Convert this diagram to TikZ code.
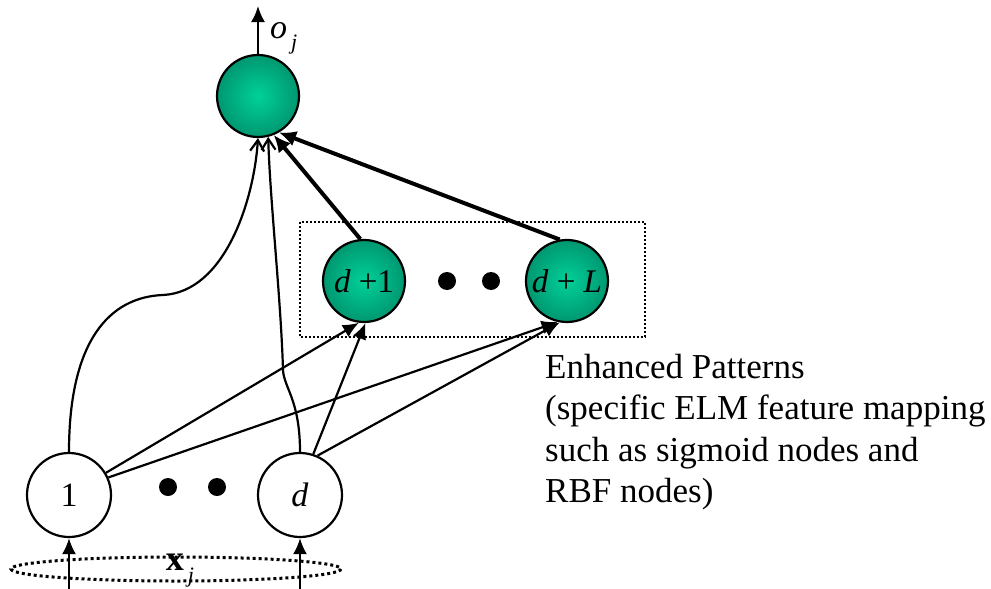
\documentclass[tikz,border=0pt]{standalone}
\usepackage{fontspec}
\setmainfont{Liberation Serif}
\usetikzlibrary{arrows.meta}
\pgfdeclareradialshading{ballgreen}{\pgfpoint{0bp}{0bp}}{rgb(0bp)=(0,0.82,0.6); rgb(22bp)=(0,0.62,0.46); rgb(50bp)=(0,0.35,0.27)}
\tikzset{
  ball/.style={circle,draw,line width=2.2pt,minimum size=82pt,inner sep=0pt,shading=ballgreen,font=\fontsize{33}{33}\selectfont},
  unit/.style={circle,draw,line width=2.2pt,minimum size=84pt,inner sep=0pt,fill=white,font=\fontsize{34}{34}\selectfont},
  conn/.style={line width=2.2pt,-{Latex[length=16pt,width=14pt]}},
  wire/.style={line width=2.2pt,-{Straight Barb[length=11pt,width=14pt]}},
  heavy/.style={line width=4pt,-{Latex[length=17pt,width=16pt]}},
  bigdot/.style={circle,fill,inner sep=0pt,minimum size=18pt},
}
\begin{document}
\begin{tikzpicture}[x=1pt,y=-1pt]
  \useasboundingbox (0,0) rectangle (991,589);
  \def\lw{2pt} % thin line width
  % output node
  \node[ball] (out) at (258,96) {};
  \coordinate (top) at (258,6);
  \draw[conn] (out) -- (top);
  \node[anchor=west,inner sep=0pt] (olbl) at (270,38) {\fontsize{34}{34}\selectfont\textit{o}\hspace{4pt}\raisebox{-11pt}{\fontsize{22}{22}\selectfont\textit{j}}};
  % enhanced patterns
  \draw[dash pattern=on 2pt off 2pt,line width=\lw] (300,222) rectangle (645,337);
  \node[ball] (h1) at (364,281) {\textit{d} +1};
  \node[ball] (hL) at (567,281) {\textit{d} + \textit{L}};
  \node[bigdot] (hd1) at (447,281) {};
  \node[bigdot] (hd2) at (491,281) {};
  % input nodes
  \node[unit] (in1) at (69,495) {1};
  \node[unit] (ind) at (300,495) {\textit{d}};
  \node[bigdot] (id1) at (168,487) {};
  \node[bigdot] (id2) at (217,487) {};
  \draw[dash pattern=on 3pt off 3pt,line width=3pt] (176,569) ellipse [x radius=165,y radius=12];
  \node[inner sep=0pt] (xlbl) at (180,571) {\fontsize{36}{36}\selectfont\textbf{x}\hspace{4pt}\raisebox{-12pt}{\fontsize{22}{22}\selectfont\textit{j}}};
  \coordinate (x1) at (69,589);
  \coordinate (xd) at (300,589);
  \draw[conn] (x1) -- (in1);
  \draw[conn] (xd) -- (ind);
  % connections
  \foreach \src/\dst in {in1.31/h1.-97,in1.24/hL.-103,ind.72/h1.-88,ind.66/hL.-100}{
    \draw[conn] (\src) -- (\dst);
  }
  \draw[wire] (in1.north) .. controls (69,340) and (110,297) .. (163,295) .. controls (225,292) and (254,200) .. (out.-90);
  \draw[wire] (ind.north) .. controls (300,400) and (284,388) .. (283,370) .. controls (281,300) and (270,200) .. (out.-76);
  \draw[heavy] (h1.95) -- (out.-68);
  \draw[heavy] (hL.100) -- (out.-60);
  \node[anchor=north west,inner sep=0pt,align=left,font=\fontsize{35}{41.5}\selectfont] (note) at (545,354)
    {Enhanced Patterns\\(specific ELM feature mapping\\such as sigmoid nodes and\\RBF nodes)};
\end{tikzpicture}
\end{document}
